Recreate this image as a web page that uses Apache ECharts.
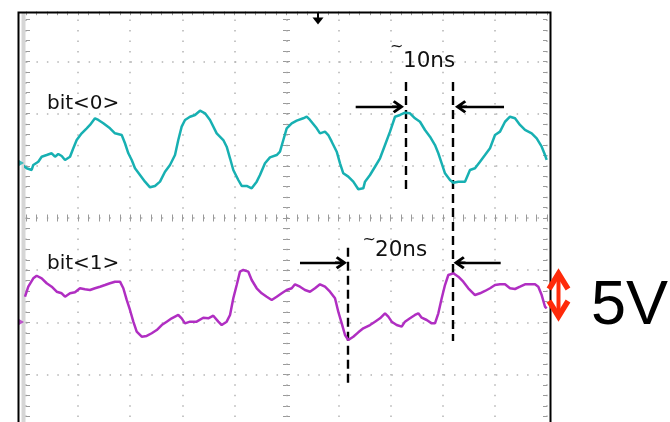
<!DOCTYPE html>
<html><head><meta charset="utf-8">
<script src="https://cdn.jsdelivr.net/npm/echarts@6/dist/echarts.min.js"></script>
<style>html,body{margin:0;padding:0;background:#fff}#c{width:670px;height:422px}</style>
</head><body><div id="c"></div>
<script>
// time in ns (10 ns/div), voltage in V (5 V/div), screen centre = (0,0)
const bit0Time = [-51.15,-50.83,-49.87,-48.91,-48.60,-47.64,-46.99,-46.03,-45.07,-44.43,-43.80,-43.15,-42.51,-41.55,-40.92,-40.27,-39.31,-38.35,-37.72,-36.76,-36.12,-35.16,-33.88,-32.92,-31.63,-31.00,-30.36,-29.71,-29.08,-28.12,-27.16,-26.20,-25.24,-24.28,-23.32,-22.36,-21.40,-20.77,-20.12,-19.48,-18.52,-17.56,-16.60,-15.64,-14.68,-13.40,-12.13,-11.48,-10.84,-10.21,-9.25,-8.60,-7.64,-6.68,-5.72,-5.09,-4.13,-3.17,-1.88,-1.25,-0.61,0.04,1.00,1.96,3.22,3.88,4.51,5.80,6.43,7.39,8.02,8.68,9.64,10.27,10.90,11.86,12.82,13.78,14.74,15.07,16.03,16.99,17.95,18.91,19.87,20.83,21.79,22.74,23.70,24.66,25.62,26.58,27.54,28.50,29.14,29.79,30.42,31.38,32.02,32.98,34.26,35.22,36.18,37.14,38.10,39.06,40.02,40.98,41.94,42.90,43.86,44.82,45.78,47.06,48.02,48.98,49.62,49.94];
const bit0Volt = [5.27,5.24,4.76,4.60,5.08,5.39,5.87,6.03,6.20,5.87,6.13,5.94,5.56,5.87,6.68,7.47,8.11,8.59,8.91,9.55,9.39,9.07,8.59,8.11,7.95,7.16,6.20,5.56,4.76,4.12,3.48,2.94,3.07,3.48,4.43,5.08,6.03,7.47,8.75,9.39,9.70,9.87,10.28,10.03,9.39,8.11,7.47,6.83,5.72,4.60,3.64,3.07,3.07,2.84,3.48,4.12,5.24,5.81,6.03,6.35,7.47,8.59,9.07,9.32,9.55,9.70,9.39,8.59,8.11,8.27,7.95,7.31,6.35,5.24,4.28,3.96,3.48,2.75,2.84,3.48,4.12,4.91,5.72,6.99,8.27,9.70,9.87,10.09,10.03,9.55,9.22,8.43,7.79,6.99,6.20,5.24,4.28,3.64,3.38,3.48,3.48,4.60,4.76,5.39,6.03,6.68,7.95,8.27,9.22,9.70,9.55,8.91,8.43,8.11,7.63,6.83,6.03,5.56];
const bit1Time = [-50.19,-49.56,-48.60,-47.95,-46.99,-46.03,-45.07,-44.11,-43.15,-42.51,-41.55,-40.60,-39.64,-38.68,-37.72,-36.76,-35.80,-34.84,-33.88,-32.92,-31.96,-31.32,-30.67,-30.04,-29.40,-28.75,-27.79,-26.83,-25.87,-24.91,-23.95,-22.99,-22.03,-20.77,-20.12,-19.48,-18.52,-17.24,-15.97,-15.01,-14.05,-13.09,-12.44,-11.48,-10.84,-10.21,-9.56,-8.93,-8.29,-7.33,-6.68,-5.72,-4.76,-3.80,-2.84,-1.88,-0.92,0.04,1.00,1.63,2.59,3.55,4.51,5.47,6.43,7.39,8.35,9.31,9.94,10.60,11.23,11.86,12.82,13.78,14.74,16.03,16.99,17.95,18.91,19.54,20.19,21.15,22.11,22.74,23.70,24.66,25.30,25.95,26.91,27.87,28.50,29.14,29.79,30.42,31.06,32.02,32.98,33.93,34.89,36.18,37.14,38.10,39.06,40.02,40.98,41.94,42.90,43.86,44.82,45.78,46.74,47.70,48.33,48.98,49.62,49.94];
const bit1Volt = [-7.54,-6.58,-5.78,-5.53,-5.78,-6.25,-6.58,-7.06,-7.21,-7.54,-7.21,-7.12,-6.73,-6.83,-6.90,-6.73,-6.58,-6.42,-6.25,-6.10,-6.10,-6.73,-7.85,-8.81,-9.93,-10.89,-11.37,-11.30,-11.04,-10.73,-10.25,-9.93,-9.61,-9.29,-9.61,-10.09,-9.93,-9.93,-9.55,-9.61,-9.36,-9.93,-10.25,-9.93,-9.29,-7.69,-6.42,-5.14,-4.98,-5.14,-5.94,-6.73,-7.21,-7.54,-7.85,-7.54,-7.21,-6.90,-6.73,-6.35,-6.58,-6.90,-7.06,-6.73,-6.35,-6.58,-7.06,-7.69,-8.98,-10.09,-11.21,-11.69,-11.37,-10.95,-10.57,-10.25,-9.93,-9.61,-9.13,-9.45,-9.93,-10.25,-10.41,-9.93,-9.61,-9.29,-9.13,-9.55,-9.77,-10.09,-10.09,-9.13,-7.69,-6.42,-5.46,-5.30,-5.62,-6.10,-6.73,-7.38,-7.21,-6.99,-6.73,-6.42,-6.35,-6.35,-6.73,-6.80,-6.58,-6.35,-6.35,-6.35,-6.58,-7.38,-8.50,-8.65];
const groundTime = [-50.86, -50.86];
const groundVolt = [5.27, -9.96];
const seriesNames = ['bit<0>', 'bit<1>'];
// annotation geometry (data units)
const dashTime = [22.84, 31.90, 11.80];
const dashTop = [13.03, 13.03, -2.84];
const dashBottom = [2.39, -11.78, -15.78];
const arrowStart = [[13.28, 10.66], [41.75, 10.66], [2.59, -4.28], [41.11, -4.28]];
const arrowEnd = [[21.40, 10.66], [33.49, 10.66], [10.46, -4.28], [33.21, -4.28]];
const labelTexts = ['10ns', '20ns', '5V'];

const zip = (a, b) => a.map((v, i) => [v, b[i]]);
const gridColor = '#b4b4b4', tickColor = '#9a9a9a';
const chevron = 'path://M50,0 L100,78 L84,94 L60,56.6 L60,100 L40,100 L40,56.6 L16,94 L0,78 Z';

function xAx(pos, onZero, len, split) {
  return {type: 'value', min: -50, max: 50, interval: 10, position: pos,
    axisLine: {show: true, onZero: onZero, onZeroAxisIndex: 0, lineStyle: {color: 'rgba(0,0,0,0)'}},
    axisTick: {show: true, inside: true, length: len, lineStyle: {color: tickColor, width: 1}},
    minorTick: {show: true, splitNumber: 5, length: len, lineStyle: {color: tickColor, width: 1}},
    axisLabel: {show: false},
    splitLine: {show: split, lineStyle: {color: gridColor, width: 1.5, type: [1.5, 8.92]}}};
}
function yAx(pos, onZero, len, split) {
  return {type: 'value', min: -20, max: 20, interval: 5, position: pos,
    axisLine: {show: true, onZero: onZero, onZeroAxisIndex: 0, lineStyle: {color: 'rgba(0,0,0,0)'}},
    axisTick: {show: true, inside: true, length: len, lineStyle: {color: tickColor, width: 1}},
    minorTick: {show: true, splitNumber: 5, length: len, lineStyle: {color: tickColor, width: 1}},
    axisLabel: {show: false},
    splitLine: {show: split, lineStyle: {color: gridColor, width: 1.5, type: [1.5, 8.94]}}};
}

const markData = [];
dashTime.forEach((t, i) => markData.push([
  {coord: [t, dashTop[i]], symbol: 'none', lineStyle: {color: '#000', width: 2.4, type: [9, 5]}},
  {coord: [t, dashBottom[i]], symbol: 'none'}]));
arrowStart.forEach((s, i) => markData.push([
  {coord: s, symbol: 'none', lineStyle: {color: '#000', width: 2.4, type: 'solid'}},
  {coord: arrowEnd[i], symbol: chevron, symbolSize: [13, 12]}]));

const chart = echarts.init(document.getElementById('c'), null, {renderer: 'canvas'});
chart.setOption({
  animation: false,
  backgroundColor: '#fff',
  grid: {left: 26, top: 9.2, width: 521, height: 417.6, outerBoundsMode: 'none', containLabel: false},
  xAxis: [xAx('bottom', true, 3.5, true), xAx('top', true, 3.5, false), xAx('top', false, 6, false)],
  yAxis: [yAx('left', true, 3.5, true), yAx('right', true, 3.5, false), yAx('left', false, 4, false), yAx('right', false, 4, false)],
  series: [
    {name: seriesNames[0], type: 'line', data: zip(bit0Time, bit0Volt), showSymbol: false, clip: false, z: 5,
     lineStyle: {color: '#17b0b2', width: 2.5}, itemStyle: {color: '#17b0b2'},
     markLine: {silent: true, animation: false, label: {show: false}, symbol: ['none', 'none'],
       lineStyle: {color: '#000', width: 2.4}, data: markData}},
    {name: seriesNames[1], type: 'line', data: zip(bit1Time, bit1Volt), showSymbol: false, clip: false, z: 5,
     lineStyle: {color: '#b02ec2', width: 2.5}, itemStyle: {color: '#b02ec2'}},
    {type: 'scatter', data: zip(groundTime, groundVolt), clip: false, z: 6, symbol: 'triangle', symbolRotate: -90, symbolSize: [6, 5],
     itemStyle: {color: (p) => p.dataIndex === 0 ? '#17b0b2' : '#b02ec2'}}
  ],
  graphic: [
    {type: 'rect', shape: {x: 21.5, y: 12, width: 4, height: 420}, style: {fill: '#d6d6d6'}, z: 0},
    {type: 'rect', shape: {x: 0, y: 0, width: 670, height: 11.5}, style: {fill: '#fff'}, z: 50},
    {type: 'polyline', shape: {points: [[18.5, 430], [18.5, 12.5], [550.5, 12.5], [550.5, 430]]}, style: {stroke: '#000', lineWidth: 2, fill: null}, z: 60},
    {type: 'line', shape: {x1: 318, y1: 13, x2: 318, y2: 19}, style: {stroke: '#000', lineWidth: 2}, z: 60},
    {type: 'polygon', shape: {points: [[312.5, 17.5], [323.5, 17.5], [318, 24.5]]}, style: {fill: '#000'}, z: 60},
    {type: 'text', style: {text: seriesNames[0], x: 47, y: 103.5, verticalAlign: 'middle', font: '20px "DejaVu Sans"', fill: '#111'}, z: 60},
    {type: 'text', style: {text: seriesNames[1], x: 47, y: 264, verticalAlign: 'middle', font: '20px "DejaVu Sans"', fill: '#111'}, z: 60},
    {type: 'text', style: {text: '~', x: 390, y: 47, verticalAlign: 'middle', font: '16px "DejaVu Sans"', fill: '#111'}, z: 60},
    {type: 'text', style: {text: labelTexts[0], x: 403, y: 61, verticalAlign: 'middle', font: '21.5px "DejaVu Sans"', fill: '#111'}, z: 60},
    {type: 'text', style: {text: '~', x: 362.5, y: 240, verticalAlign: 'middle', font: '16px "DejaVu Sans"', fill: '#111'}, z: 60},
    {type: 'text', style: {text: labelTexts[1], x: 375, y: 250.5, verticalAlign: 'middle', font: '21.5px "DejaVu Sans"', fill: '#111'}, z: 60},
    {type: 'text', style: {text: labelTexts[2], x: 591, y: 306.5, verticalAlign: 'middle', font: '63px "Liberation Sans"', fill: '#000'}, z: 60},
    {type: 'line', shape: {x1: 558.5, y1: 272, x2: 558.5, y2: 318}, style: {stroke: '#ff2a0a', lineWidth: 4}, z: 60},
    {type: 'polyline', shape: {points: [[549, 289], [558.5, 273.5], [568, 289]]}, style: {stroke: '#ff2a0a', lineWidth: 5.5, fill: null, lineJoin: 'miter'}, z: 60},
    {type: 'polyline', shape: {points: [[549, 301], [558.5, 316.5], [568, 301]]}, style: {stroke: '#ff2a0a', lineWidth: 5.5, fill: null, lineJoin: 'miter'}, z: 60}
  ]
});
</script></body></html>
